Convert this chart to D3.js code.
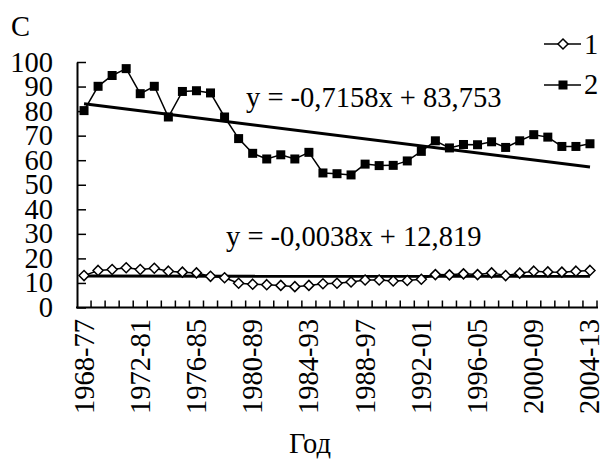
<!DOCTYPE html>
<meta charset="utf-8">
<style>
body { margin: 0; background: #fff; }
.lbl { font-family: "Liberation Serif", "Times New Roman", "DejaVu Serif", serif; font-size: 28.5px; fill: #000; }
</style>
<svg width="603" height="462"></svg>
<script src="https://cdn.jsdelivr.net/npm/d3@7"></script>
<script>

var periods = ["1968-77","1969-78","1970-79","1971-80","1972-81","1973-82","1974-83","1975-84",
  "1976-85","1977-86","1978-87","1979-88","1980-89","1981-90","1982-91","1983-92","1984-93",
  "1985-94","1986-95","1987-96","1988-97","1989-98","1990-99","1991-00","1992-01","1993-02",
  "1994-03","1995-04","1996-05","1997-06","1998-07","1999-08","2000-09","2001-10","2002-11",
  "2003-12","2004-13"];

var series1 = [13.0, 15.1, 15.5, 16.2, 15.5, 16.0, 14.8, 14.4, 14.1, 12.7, 12.1, 9.9, 9.5,
  9.3, 9.0, 8.5, 9.0, 9.7, 9.9, 10.4, 11.2, 11.2, 10.8, 11.0, 11.5, 13.4, 13.3, 13.7, 13.4,
  14.1, 13.0, 14.0, 14.8, 14.5, 14.4, 14.8, 15.1];

var series2 = [80.2, 90.1, 94.5, 97.3, 87.1, 90.1, 77.6, 88.0, 88.3, 87.4, 77.6, 68.8, 62.8,
  60.5, 62.2, 60.5, 63.2, 54.8, 54.5, 54.0, 58.4, 57.8, 57.9, 59.7, 63.6, 67.9, 65.0, 66.4,
  66.3, 67.5, 65.2, 67.9, 70.4, 69.4, 65.6, 65.6, 66.7];

var yTicks = [0, 10, 20, 30, 40, 50, 60, 70, 80, 90, 100];
var slopes = [-0.0038, -0.7158];
var intercepts = [12.819, 83.753];
var equations = ["y = -0,0038x + 12,819", "y = -0,7158x + 83,753"];

var svg = d3.select("svg"),
    plotL = 77, plotR = 597, plotT = 62, plotB = 307.5;

var x = d3.scaleBand().domain(periods).range([plotL, plotR]).padding(0);
var y = d3.scaleLinear().domain([0, 100]).range([plotB, plotT]);
var cx = function(d, i) { return x(periods[i]) + x.bandwidth() / 2; };

// axes
var yAxis = svg.append("g").attr("transform", "translate(" + plotL + ",0)")
    .call(d3.axisRight(y).tickValues(yTicks).tickSize(9).tickFormat("").tickSizeOuter(0));
yAxis.select(".domain").attr("stroke", "#000").attr("stroke-width", 2);
yAxis.selectAll(".tick line").attr("stroke", "#000").attr("stroke-width", 1.5);

svg.append("line").attr("x1", plotL - 1).attr("x2", plotR + 1)
    .attr("y1", plotB).attr("y2", plotB)
    .attr("stroke", "#000").attr("stroke-width", 2);

// tick marks between categories
svg.append("g").selectAll("line")
  .data(periods.map(function(p) { return x(p) + x.bandwidth(); }))
  .enter().append("line")
    .attr("x1", function(d) { return d; }).attr("x2", function(d) { return d; })
    .attr("y1", plotB).attr("y2", plotB - 7)
    .attr("stroke", "#000").attr("stroke-width", 1.5);

svg.append("g").selectAll("text")
  .data(yTicks).enter().append("text")
    .attr("class", "lbl")
    .attr("x", 53).attr("y", function(d) { return y(d) + 9.5; })
    .attr("text-anchor", "end")
    .text(function(d) { return d; });

svg.append("g").selectAll("text")
  .data(periods.filter(function(p, i) { return i % 4 === 0; })).enter().append("text")
    .attr("class", "lbl")
    .attr("text-anchor", "end")
    .attr("transform", function(d) {
      return "translate(" + (x(d) + x.bandwidth() / 2 + 9.5) + "," + 319 + ") rotate(-90)";
    })
    .text(function(d) { return d; });

svg.append("text").attr("class", "lbl").attr("x", 11).attr("y", 36).text("C");
svg.append("text").attr("class", "lbl").attr("x", 310).attr("y", 453)
    .attr("text-anchor", "middle").text("Год");

// trend lines
[0, 1].forEach(function(k) {
  var n = periods.length;
  svg.append("line")
    .attr("x1", cx(null, 0)).attr("y1", y(slopes[k] * 1 + intercepts[k]))
    .attr("x2", cx(null, n - 1)).attr("y2", y(slopes[k] * n + intercepts[k]))
    .attr("stroke", "#000").attr("stroke-width", 3);
});

var line = d3.line().x(function(d, i) { return cx(d, i); }).y(function(d) { return y(d); });

svg.append("path").datum(series1).attr("d", line)
    .attr("fill", "none").attr("stroke", "#000").attr("stroke-width", 1.5);
svg.append("path").datum(series2).attr("d", line)
    .attr("fill", "none").attr("stroke", "#000").attr("stroke-width", 1.5);

var diamond = "M0,-5L5,0L0,5L-5,0Z";
svg.append("g").selectAll("path")
  .data(series1).enter().append("path")
    .attr("d", diamond)
    .attr("transform", function(d, i) { return "translate(" + cx(d, i) + "," + y(d) + ")"; })
    .attr("fill", "#fff").attr("stroke", "#000").attr("stroke-width", 1.5);

svg.append("g").selectAll("rect")
  .data(series2).enter().append("rect")
    .attr("x", function(d, i) { return cx(d, i) - 4.5; })
    .attr("y", function(d) { return y(d) - 4.5; })
    .attr("width", 9).attr("height", 9)
    .attr("fill", "#000");

svg.append("text").attr("class", "lbl").attr("x", 226).attr("y", 246).text(equations[0]);
svg.append("text").attr("class", "lbl").attr("x", 246).attr("y", 107).text(equations[1]);

// legend
var legend = svg.append("g");
legend.append("line").attr("x1", 544).attr("x2", 581).attr("y1", 44).attr("y2", 44)
    .attr("stroke", "#000").attr("stroke-width", 1.5);
legend.append("path").attr("d", diamond).attr("transform", "translate(563,44)")
    .attr("fill", "#fff").attr("stroke", "#000").attr("stroke-width", 1.5);
legend.append("text").attr("class", "lbl").attr("x", 584).attr("y", 54).text("1");
legend.append("line").attr("x1", 544).attr("x2", 581).attr("y1", 85).attr("y2", 85)
    .attr("stroke", "#000").attr("stroke-width", 1.5);
legend.append("rect").attr("x", 558.5).attr("y", 80.5).attr("width", 9).attr("height", 9)
    .attr("fill", "#000");
legend.append("text").attr("class", "lbl").attr("x", 584).attr("y", 94).text("2");

</script>
